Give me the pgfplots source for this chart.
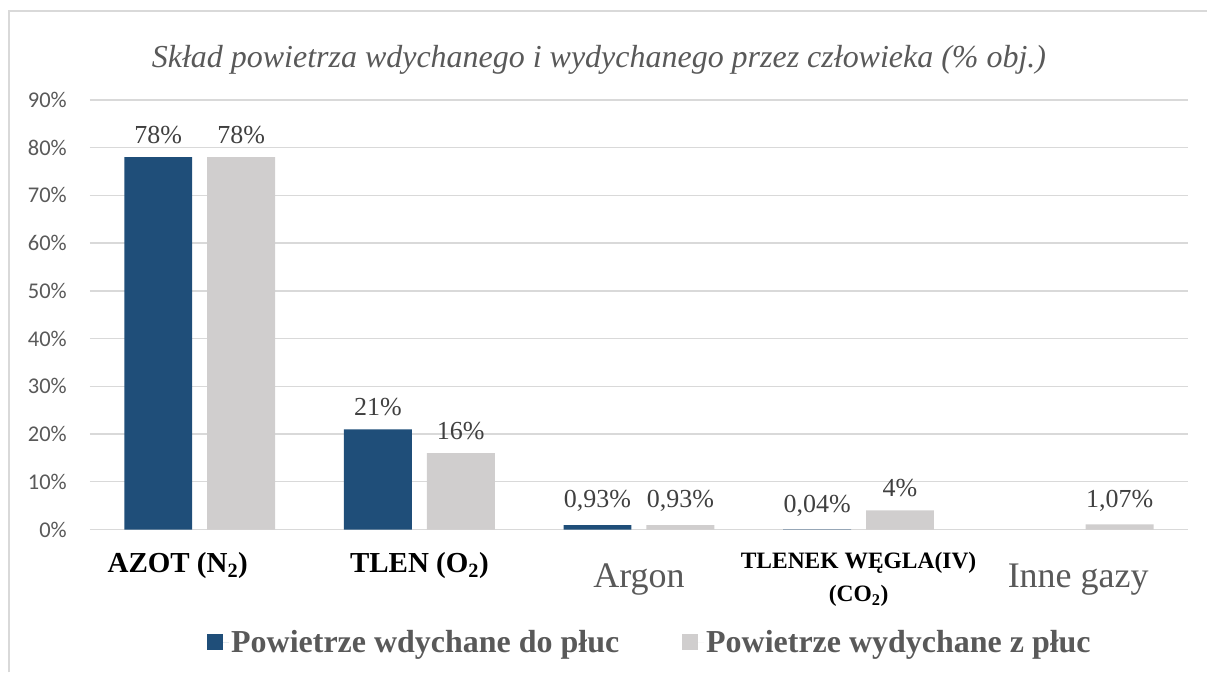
\documentclass[border=0pt]{standalone}
\usepackage{pgfplots}
\pgfplotsset{compat=1.18}
\usepackage{fontspec}
\setmainfont{Liberation Serif}
\newfontfamily\calibri{Carlito}
\definecolor{navy}{HTML}{1F4E79}
\definecolor{lgray}{HTML}{D0CECE}
\definecolor{txtgray}{HTML}{595959}
\definecolor{valgray}{HTML}{404040}
\definecolor{gridgray}{HTML}{D9D9D9}
\begin{document}
\begin{tikzpicture}[x=1pt,y=1pt]
\draw[gridgray, line width=2pt] (9,0) -- (9,662) -- (1208,662);
\begin{axis}[
  at={(90pt,143pt)}, anchor=south west,
  scale only axis, width=1099pt, height=430pt,
  xmin=-0.5, xmax=4.5, ymin=0, ymax=90,
  ybar=15pt, bar width=68pt,
  axis line style={draw=none}, tick style={draw=none},
  major tick length=0pt,
  ymajorgrids, grid style={gridgray, line width=1.3pt},
  ytick={0,10,...,90},
  yticklabels={0\%,10\%,20\%,30\%,40\%,50\%,60\%,70\%,80\%,90\%},
  yticklabel style={font=\calibri\fontsize{22.5}{26}\selectfont, text=txtgray, anchor=east, inner sep=0pt, xshift=-23pt},
  xtick={0,1,2,3,4},
  xticklabels={
    {\fontsize{29}{34}\selectfont\bfseries AZOT (N\textsubscript{2})\hspace*{44pt}},
    {\fontsize{29}{34}\selectfont\bfseries TLEN (O\textsubscript{2})},
    {\raisebox{-15pt}{\fontsize{36}{40}\selectfont\color{txtgray}Argon}},
    {\raisebox{4pt}{\fontsize{23.5}{33}\selectfont\bfseries\begin{tabular}[t]{@{}c@{}}TLENEK WĘGLA(IV)\\(CO\textsubscript{2})\end{tabular}}},
    {\raisebox{-15pt}{\fontsize{36}{40}\selectfont\color{txtgray}Inne gazy}}
  },
  xticklabel style={anchor=base, inner sep=0pt, yshift=-43pt, text=black},
  title={\fontsize{32}{38}\selectfont\itshape Skład powietrza wdychanego i wydychanego przez człowieka (\% obj.)},
  title style={at={(0.5,1)}, anchor=center, yshift=34pt, xshift=-40pt, text=txtgray},
  point meta=explicit symbolic,
  nodes near coords,
  nodes near coords style={font=\fontsize{26}{30}\selectfont, text=valgray, inner sep=5pt, yshift=8pt},
  legend columns=2,
  legend style={at={(0.5,0)}, anchor=center, yshift=-113pt, xshift=11pt, draw=none, fill=none,
    font=\fontsize{32}{36}\selectfont\bfseries, text=txtgray,
    /tikz/every even column/.append style={column sep=61pt}},
  legend image code/.code={\fill[#1] (0pt,-8pt) rectangle (16pt,8pt); \path (0pt,0pt) -- (22pt,0pt);},
]
\addplot[fill=navy, draw=none] coordinates {
  (0,78) [78\%]
  (1,21) [21\%]
  (2,0.93) [0{,}93\%]
  (3,0.04) [0{,}04\%]
};
\addplot[fill=lgray, draw=none] coordinates {
  (0,78) [78\%]
  (1,16) [16\%]
  (2,0.93) [0{,}93\%]
  (3,4) [4\%]
  (4,1.07) [1{,}07\%]
};
\legend{Powietrze wdychane do płuc, Powietrze wydychane z płuc}
\end{axis}
\useasboundingbox (0,0) rectangle (1208,673);
\end{tikzpicture}
\end{document}
